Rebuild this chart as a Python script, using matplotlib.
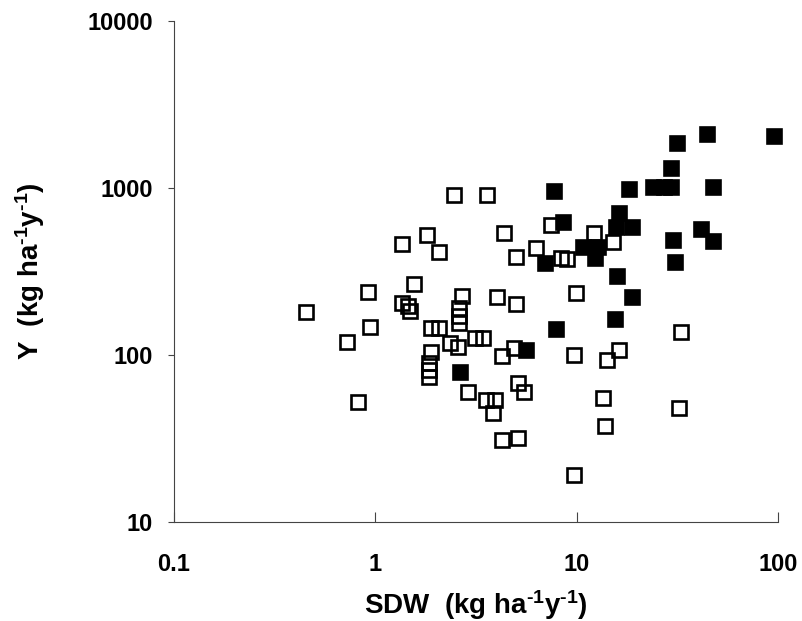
import matplotlib
matplotlib.use("Agg")
import matplotlib.pyplot as plt

plt.rcParams['font.family'] = ['Liberation Sans', 'DejaVu Sans']
plt.rcParams['font.weight'] = 'bold'
plt.rcParams['mathtext.fontset'] = 'custom'
plt.rcParams['mathtext.rm'] = 'Liberation Sans:bold'
plt.rcParams['mathtext.it'] = 'Liberation Sans:bold'
plt.rcParams['mathtext.bf'] = 'Liberation Sans:bold'
plt.rcParams['mathtext.default'] = 'rm'

# Open squares
open_x = [2.45, 3.57, 1.36, 1.81, 2.06, 1.56, 0.92, 0.45, 0.94, 0.72, 0.82,
          1.36, 1.46, 1.49, 2.68, 2.59, 2.59, 2.59, 1.90, 2.08, 1.88,
          1.84, 1.84, 1.84, 2.36, 2.56, 3.11, 3.41, 2.90,
          7.43, 4.38, 6.25, 4.97, 8.33, 9.0, 12.2, 15.1, 4.0, 4.97, 9.9,
          4.24, 4.86, 9.67, 14.1, 16.2, 32.9, 32.2, 3.53, 3.95, 3.86,
          5.09, 5.45, 13.5, 13.8, 4.28, 5.09, 9.67]
open_y = [910, 910, 462, 524, 414, 266, 238, 181, 147, 120, 52,
          205, 196, 183, 225, 191, 171, 156, 145, 145, 104,
          89.5, 81, 74, 118, 112, 126, 127, 60,
          600, 538, 437, 387, 383, 378, 538, 475, 222, 202, 235,
          98.6, 110, 100, 93, 107, 137, 48, 54, 54, 45,
          68, 60, 55, 37.6, 31, 32, 19.1]

# Filled squares
fill_x = [7.69, 8.6, 7.0, 7.87, 5.58, 2.62, 10.8, 12.7, 12.4, 16.2,
          15.6, 18.9, 18.1, 15.8, 18.9, 15.5, 31.5, 44.3, 95.5, 29.4,
          23.9, 27.0, 29.4, 47.5, 30.0, 30.7, 41.4, 47.5]
fill_y = [960, 625, 356, 143, 107, 79, 443, 443, 381, 708,
          583, 583, 986, 297, 222, 164, 1860, 2100, 2050, 1320,
          1010, 1010, 1010, 1010, 489, 360, 567, 482]

x_ticks = [0.1, 1, 10, 100]
x_ticklabels = ['0.1', '1', '10', '100']
y_ticks = [10, 100, 1000, 10000]
y_ticklabels = ['10', '100', '1000', '10000']

fig = plt.figure(figsize=(8.02, 6.21), dpi=100)
ax = fig.add_axes([174/802, 1-522/621, (778-174)/802, (522-21)/621])

ms = 10.5
ax.plot(open_x, open_y, ls='none', marker='s', ms=ms, mfc='none', mec='black', mew=1.9, clip_on=False)
ax.plot(fill_x, fill_y, ls='none', marker='s', ms=ms, mfc='black', mec='black', mew=1.9, clip_on=False)

ax.set_xscale('log')
ax.set_yscale('log')
ax.set_xlim(0.1, 100)
ax.set_ylim(10, 10000)
ax.set_xticks(x_ticks)
ax.set_xticklabels(x_ticklabels)
ax.set_yticks(y_ticks)
ax.set_yticklabels(y_ticklabels)
ax.minorticks_off()

for s in ['top', 'right']:
    ax.spines[s].set_visible(False)
for s in ['left', 'bottom']:
    ax.spines[s].set_linewidth(0.8)
    ax.spines[s].set_color('#444444')

ax.tick_params(axis='x', direction='in', length=7, width=0.8, pad=22, labelsize=17, colors='#444444', labelcolor='black')
ax.tick_params(axis='y', direction='out', length=4.5, width=0.8, pad=10.5, labelsize=17, colors='#444444', labelcolor='black')
for lab in ax.get_xticklabels() + ax.get_yticklabels():
    lab.set_fontweight('bold')

lab = r'  (kg ha$^{\text{-}1}$y$^{\text{-}1}$)'
ax.set_xlabel('SDW' + lab, fontsize=20, fontweight='bold', labelpad=9)
ax.set_ylabel('Y' + lab, fontsize=20, fontweight='bold', labelpad=29)

fig.savefig('out.png', dpi=100)
